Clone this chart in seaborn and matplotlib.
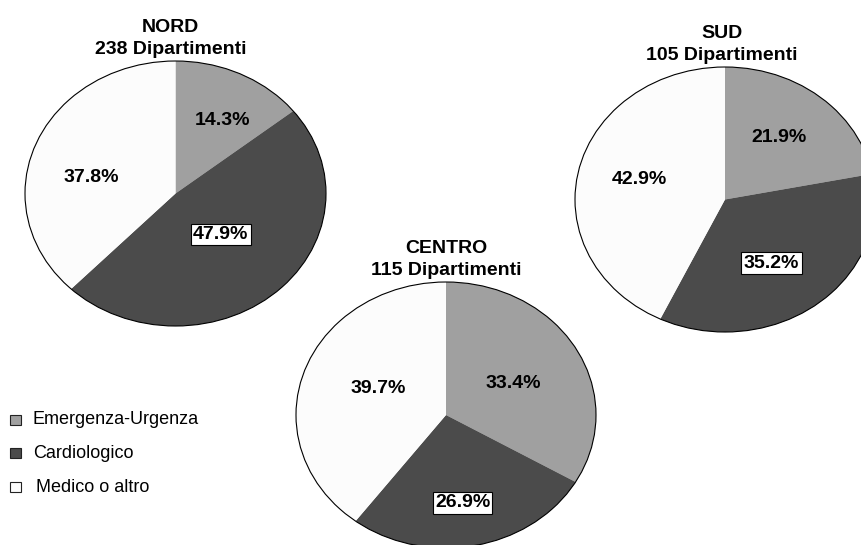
import matplotlib.pyplot as plt
import seaborn as sns
from matplotlib.patches import Circle, Rectangle

sns.set_theme(style="white")
plt.rcParams['font.family'] = ['Liberation Sans', 'DejaVu Sans']
plt.rcParams['text.color'] = 'black'

# Data
categories = ["Emergenza-Urgenza", "Cardiologico", "Medico o altro"]
regions = ["NORD", "SUD", "CENTRO"]
n_dipartimenti = [238, 105, 115]
nord_pct = [14.3, 47.9, 37.8]
sud_pct = [21.9, 35.2, 42.9]
centro_pct = [33.4, 26.9, 39.7]
values = [nord_pct, sud_pct, centro_pct]

colors = ["#a0a0a0", "#4b4b4b", "#fcfcfc"]

W, H = 861, 545
fig = plt.figure(figsize=(W / 100, H / 100), dpi=100)

# ellipse boxes in pixels: left, top, width, height
boxes = [(25, 61, 301, 265), (575, 67, 300, 265), (296, 282, 300, 266)]
# label positions in unit-circle coords, per pie
label_pos = [
    [(0.31, 0.55), (0.30, -0.31), (-0.56, 0.12)],
    [(0.36, 0.47), (0.31, -0.48), (-0.57, 0.15)],
    [(0.45, 0.24), (0.11, -0.66), (-0.45, 0.20)],
]
title_dx = [-5, -3, 0]

for i, (reg, n, vals) in enumerate(zip(regions, n_dipartimenti, values)):
    left, top, w, h = boxes[i]
    ax = fig.add_axes([left / W, 1 - (top + h) / H, w / W, h / H])
    ax.pie(vals, colors=colors, startangle=90, counterclock=False,
           radius=1, wedgeprops=dict(linewidth=0))
    ax.set_aspect('auto')
    ax.set_xlim(-1, 1)
    ax.set_ylim(-1, 1)
    ax.axis('off')
    ax.add_patch(Circle((0, 0), 1, fill=False, edgecolor='black',
                        linewidth=0.8, clip_on=False))
    for j, v in enumerate(vals):
        x, y = label_pos[i][j]
        kw = {}
        if j == 1:
            kw['bbox'] = dict(boxstyle='square,pad=0.12', fc='white',
                              ec='black', lw=0.8)
        ax.text(x, y, f"{v:.1f}%", ha='center', va='center',
                fontsize=14, fontweight='bold', color='black', **kw)
    # titles
    cx = (left + w / 2 + title_dx[i]) / W
    fig.text(cx, 1 - (top - 7) / H, f"{n} Dipartimenti", ha='center',
             va='baseline', fontsize=14, fontweight='bold', color='black')
    fig.text(cx, 1 - (top - 29) / H, reg, ha='center',
             va='baseline', fontsize=14, fontweight='bold', color='black')

# legend
lax = fig.add_axes([0, 0, 1, 1])
lax.set_xlim(0, W)
lax.set_ylim(H, 0)
lax.axis('off')
leg_y = [419.5, 453, 487]
leg_x = [33, 33, 36]
for c, lab, y, x in zip(colors, categories, leg_y, leg_x):
    lax.add_patch(Rectangle((10, y - 5), 11, 10, facecolor=c,
                            edgecolor='#222222', linewidth=0.8))
    lax.text(x, y, lab, ha='left', va='center', fontsize=13, color='black')

fig.savefig("out.png", dpi=100)
